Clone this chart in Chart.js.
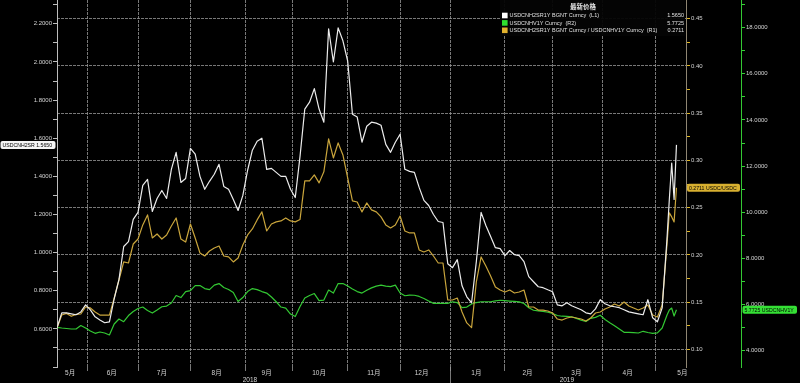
<!DOCTYPE html>
<html><head><meta charset="utf-8">
<script src="https://cdn.jsdelivr.net/npm/chart.js@4.4.1/dist/chart.umd.min.js"></script>
<style>html,body{margin:0;padding:0;background:#000;overflow:hidden}canvas{display:block}</style>
</head><body>
<canvas id="c" width="800" height="383"></canvas>
<script>
// trading-day index since mid-May 2018
const days = [0,2,4,6,8,10,12,14,16,18,20,22,24,26,28,30,32,34,36,38,40,42,44,46,48,50,52,54,56,58,60,62,64,66,68,70,72,74,76,78,80,82,84,86,88,90,92,94,96,98,100,102,104,106,108,110,112,114,116,118,120,122,124,126,128,130,132,134,136,138,140,142,144,146,148,150,152,154,156,158,160,162,164,166,168,170,172,174,176,178,180,182,184,186,188,190,192,194,196,198,200,202,204,206,208,210,212,214,216,218,220,222,224,226,228,230,232,234,236,238,240,242,244,246,248,250,252,254,256,257,258,259,260];

// USDCNH2SR1Y BGNT Curncy (L1)
const cnh2sr = [0.605,0.684,0.684,0.679,0.674,0.689,0.726,0.700,0.663,0.647,0.632,0.637,0.758,0.858,1.032,1.058,1.174,1.211,1.353,1.384,1.216,1.284,1.326,1.284,1.437,1.526,1.368,1.389,1.547,1.516,1.400,1.332,1.374,1.411,1.463,1.347,1.332,1.279,1.221,1.300,1.432,1.537,1.584,1.600,1.437,1.442,1.421,1.400,1.400,1.332,1.289,1.505,1.753,1.789,1.860,1.753,1.684,2.174,2.000,2.179,2.111,2.005,1.726,1.711,1.579,1.663,1.684,1.679,1.668,1.568,1.526,1.579,1.621,1.437,1.426,1.421,1.342,1.274,1.247,1.200,1.163,1.158,0.942,0.921,0.963,0.826,0.768,0.737,0.953,1.211,1.142,1.084,1.026,1.021,0.984,1.011,0.989,0.984,0.953,0.874,0.847,0.821,0.816,0.805,0.795,0.726,0.721,0.737,0.721,0.711,0.700,0.684,0.679,0.705,0.753,0.732,0.721,0.716,0.711,0.700,0.689,0.684,0.679,0.674,0.753,0.658,0.637,0.710,1.068,1.279,1.470,1.279,1.565];

// USDCNH2SR1Y / USDCNHV1Y (R1)
const ratio = [0.1226,0.1363,0.1380,0.1350,0.1370,0.1374,0.1448,0.1438,0.1395,0.1363,0.1363,0.1363,0.1543,0.1734,0.1925,0.1914,0.2115,0.2168,0.2317,0.2423,0.2179,0.2221,0.2168,0.2211,0.2306,0.2391,0.2168,0.2136,0.2327,0.2179,0.2020,0.1988,0.2041,0.2073,0.2094,0.1988,0.1978,0.1925,0.1967,0.2105,0.2211,0.2274,0.2370,0.2455,0.2253,0.2327,0.2349,0.2359,0.2391,0.2359,0.2349,0.2375,0.2783,0.2783,0.2847,0.2762,0.2879,0.3228,0.3026,0.3185,0.3058,0.2815,0.2572,0.2560,0.2455,0.2550,0.2476,0.2455,0.2402,0.2317,0.2285,0.2317,0.2412,0.2253,0.2232,0.2232,0.2052,0.2031,0.2052,0.1988,0.1914,0.1914,0.1522,0.1522,0.1543,0.1395,0.1280,0.1230,0.1713,0.1978,0.1882,0.1776,0.1660,0.1628,0.1607,0.1628,0.1596,0.1607,0.1628,0.1448,0.1448,0.1416,0.1416,0.1406,0.1385,0.1321,0.1310,0.1332,0.1342,0.1332,0.1321,0.1300,0.1332,0.1385,0.1395,0.1427,0.1448,0.1480,0.1459,0.1501,0.1459,0.1438,0.1416,0.1438,0.1469,0.1363,0.1342,0.1470,0.2105,0.2445,0.2402,0.2349,0.2711];

// USDCNHV1Y Curncy (R2)
const cnhv1y = [5.013,4.983,4.961,4.939,4.939,5.091,4.983,4.853,4.753,4.810,4.766,4.680,5.156,5.372,5.255,5.524,5.697,5.827,5.892,5.740,5.632,5.762,5.905,5.935,6.065,6.390,6.303,6.563,6.606,6.823,6.823,6.693,6.649,6.844,6.909,6.736,6.649,6.519,6.130,6.303,6.563,6.693,6.649,6.563,6.498,6.325,6.121,5.892,5.848,5.590,5.480,5.913,6.281,6.390,6.476,6.173,6.195,6.628,6.498,6.909,6.909,6.801,6.671,6.563,6.498,6.619,6.723,6.801,6.844,6.801,6.779,6.844,6.498,6.381,6.411,6.403,6.351,6.264,6.152,6.052,6.052,6.052,6.052,6.121,6.087,5.870,5.892,6.022,6.087,6.121,6.121,6.121,6.160,6.186,6.169,6.152,6.139,6.117,6.043,5.861,5.753,5.727,5.701,5.667,5.615,5.524,5.494,5.485,5.472,5.403,5.320,5.264,5.403,5.446,5.537,5.351,5.208,5.078,4.935,4.797,4.797,4.784,4.766,4.840,4.788,4.753,4.771,4.983,5.537,5.762,5.848,5.502,5.7725];

const monthBounds = [13,34,56,79,99,122,144,165,188,208,229,251];
const monthLabelPos = [5.5,23,44,67,88,110,133,153,176,197.5,218,239.5,262.5];
const monthLabels = ['5月','6月','7月','8月','9月','10月','11月','12月','1月','2月','3月','4月','5月'];
const yearPos = [81,214];
const yearLabels = ['2018','2019'];
const yearBoundary = 165;

const leftTicks = [0.4,0.5,0.6,0.7,0.8,0.9,1.0,1.1,1.2,1.3,1.4,1.5,1.6,1.7,1.8,1.9,2.0,2.1,2.2,2.3];
const r1Ticks = [0.1,0.125,0.15,0.175,0.2,0.225,0.25,0.275,0.3,0.325,0.35,0.375,0.4,0.425,0.45];
const r2Ticks = [4,5,6,7,8,9,10,11,12,13,14,15,16,17,18,19];

const seriesNames = ['USDCNH2SR1Y BGNT Curncy  (L1)','USDCNHV1Y Curncy  (R2)','USDCNH2SR1Y BGNT Curncy / USDCNHV1Y Curncy  (R1)'];
const legendTitle = '最新价格';

const WHITE = '#ececec', GOLD = '#c9a53c', GREEN = '#33c833';
const GRID = 'rgba(150,150,150,0.8)';
const TXT = '#d4d4d4';
const FONT = '"Liberation Sans", "Noto Sans CJK SC", sans-serif';

const xDefs = [];
monthBounds.forEach(v => xDefs.push({value: v, kind: 'b', label: ''}));
monthLabelPos.forEach((v, i) => xDefs.push({value: v, kind: 'm', label: monthLabels[i]}));
yearPos.forEach((v, i) => xDefs.push({value: v, kind: 'y', label: ['', yearLabels[i]]}));
xDefs.sort((a, b) => a.value - b.value);

const isLeftMajor = v => { const k = Math.round(v * 10); return k % 2 === 0 && k >= 6 && k <= 22; };
const isR1Major = v => Math.round(v * 1000) % 50 === 0;
const isR2Major = v => v % 2 === 0 && v <= 18;

const mk = (arr) => days.map((d, i) => ({x: d, y: arr[i]}));
const last = a => a[a.length - 1];

const overlay = {
  id: 'overlay',
  afterDraw(chart) {
    const ctx = chart.ctx;
    const {x, yL, yR1, yR2} = chart.scales;
    const ca = chart.chartArea;
    ctx.save();
    // year separator tick
    const xs = Math.round(x.getPixelForValue(yearBoundary)) + 0.5;
    ctx.strokeStyle = GRID; ctx.lineWidth = 1;
    ctx.beginPath(); ctx.moveTo(xs, ca.bottom); ctx.lineTo(xs, chart.height); ctx.stroke();

    // value tags on axes
    const tag = (x0, x1, yc, fill, text) => {
      const h = 8;
      ctx.fillStyle = fill;
      ctx.beginPath();
      if (ctx.roundRect) ctx.roundRect(x0, yc - h / 2, x1 - x0, h, 2); else ctx.rect(x0, yc - h / 2, x1 - x0, h);
      ctx.fill();
      ctx.fillStyle = '#000';
      ctx.font = '5.2px ' + FONT;
      ctx.textBaseline = 'middle'; ctx.textAlign = 'left';
      ctx.fillText(text, x0 + 2, yc + 0.5, x1 - x0 - 3);
    };
    tag(0.5, yL.right - 1.5, yL.getPixelForValue(last(cnh2sr)), '#f4f4f4', 'USDCNH2SR ' + last(cnh2sr).toFixed(4));
    tag(yR1.left + 1, yR1.right - 1, yR1.getPixelForValue(last(ratio)), '#d8b030', last(ratio).toFixed(4) + ' USDC/USDC');
    tag(yR2.left + 1.5, chart.width - 3, yR2.getPixelForValue(last(cnhv1y)), '#35e035', last(cnhv1y).toFixed(4) + ' USDCNHV1Y');

    // legend box
    const lx = 500, ly = 0, lw = 185, lh = 36;
    ctx.fillStyle = 'rgba(4,4,4,0.95)';
    ctx.fillRect(lx, ly, lw, lh);
    ctx.fillStyle = '#e6e6e6';
    ctx.font = 'bold 6.5px ' + FONT;
    ctx.textAlign = 'center'; ctx.textBaseline = 'middle';
    ctx.fillText(legendTitle, lx + 83, 7.5);
    const rows = [
      {c: '#ffffff', n: seriesNames[0], v: last(cnh2sr)},
      {c: '#2fe02f', n: seriesNames[1], v: last(cnhv1y)},
      {c: '#e2b22e', n: seriesNames[2], v: last(ratio)}
    ];
    ctx.font = '5.5px ' + FONT;
    rows.forEach((r, i) => {
      const yc = 15.5 + i * 7.4;
      ctx.fillStyle = r.c;
      ctx.fillRect(lx + 2, yc - 2.8, 5.6, 5.6);
      ctx.fillStyle = '#e0e0e0';
      ctx.textAlign = 'left';
      ctx.fillText(r.n, lx + 9.5, yc + 0.3, 150);
      ctx.textAlign = 'right';
      ctx.fillText(r.v.toFixed(4), lx + lw - 1, yc + 0.3);
    });
    ctx.restore();
  }
};

new Chart(document.getElementById('c'), {
  type: 'line',
  data: {
    datasets: [
      {label: seriesNames[0], data: mk(cnh2sr), yAxisID: 'yL', borderColor: WHITE, borderWidth: 1.2},
      {label: seriesNames[2], data: mk(ratio), yAxisID: 'yR1', borderColor: GOLD, borderWidth: 1.2},
      {label: seriesNames[1], data: mk(cnhv1y), yAxisID: 'yR2', borderColor: GREEN, borderWidth: 1.2}
    ]
  },
  options: {
    responsive: false,
    animation: false,
    layout: {padding: 0},
    elements: {point: {radius: 0}, line: {tension: 0, borderJoinStyle: 'round'}},
    plugins: {legend: {display: false}, tooltip: {enabled: false}},
    scales: {
      x: {
        type: 'linear', min: 0, max: 264, position: 'bottom',
        afterBuildTicks: s => { s.ticks = xDefs.map(d => ({value: d.value})); },
        afterFit: s => { s.height = 16; s.paddingLeft = 0; s.paddingRight = 0; },
        grid: {
          color: c => (xDefs[c.index] && xDefs[c.index].kind === 'b') ? GRID : 'rgba(0,0,0,0)',
          tickColor: c => (xDefs[c.index] && xDefs[c.index].kind === 'b') ? GRID : 'rgba(0,0,0,0)',
          tickLength: 4, lineWidth: 1
        },
        border: {display: false, dash: [3, 1]},
        ticks: {
          autoSkip: false, maxRotation: 0, padding: -2, color: TXT,
          font: {family: FONT, size: 6.5, lineHeight: 1.15},
          callback: (v, i) => xDefs[i] ? xDefs[i].label : ''
        }
      },
      yL: {
        type: 'linear', position: 'left', min: 0.4, max: 2.325,
        afterBuildTicks: s => { s.ticks = leftTicks.map(v => ({value: v})); },
        afterFit: s => { s.width = 57; s.paddingTop = 0; s.paddingBottom = 0; },
        grid: {drawOnChartArea: false, drawTicks: true, tickLength: 4, tickColor: '#bdbdbd'},
        border: {display: true, color: '#bdbdbd', width: 1},
        ticks: {color: TXT, padding: 1, font: {family: FONT, size: 6}, autoSkip: false,
          callback: v => isLeftMajor(v) ? v.toFixed(4) : ''}
      },
      yR1: {
        type: 'linear', position: 'right', weight: 0, min: 0.0813, max: 0.4698,
        afterBuildTicks: s => { s.ticks = r1Ticks.map(v => ({value: v})); },
        afterFit: s => { s.width = 55; s.paddingTop = 0; s.paddingBottom = 0; },
        grid: {
          drawOnChartArea: true, drawTicks: true, tickLength: 4,
          color: c => (c.tick && isR1Major(c.tick.value)) ? GRID : 'rgba(0,0,0,0)',
          tickColor: '#e2b820'
        },
        border: {display: true, color: '#8f8673', width: 1, dash: [3, 1]},
        ticks: {color: TXT, padding: 1, font: {family: FONT, size: 6}, autoSkip: false,
          callback: v => isR1Major(v) ? v.toFixed(2) : ''}
      },
      yR2: {
        type: 'linear', position: 'right', weight: 1, min: 3.293, max: 19.2,
        afterBuildTicks: s => { s.ticks = r2Ticks.map(v => ({value: v})); },
        afterFit: s => { s.width = 59; s.paddingTop = 0; s.paddingBottom = 0; },
        grid: {drawOnChartArea: false, drawTicks: true, tickLength: 4, tickColor: '#35d035'},
        border: {display: true, color: '#33c833', width: 1},
        ticks: {color: TXT, padding: 1, font: {family: FONT, size: 6}, autoSkip: false,
          callback: v => isR2Major(v) ? v.toFixed(4) : ''}
      }
    }
  },
  plugins: [overlay]
});
</script>
</body></html>
